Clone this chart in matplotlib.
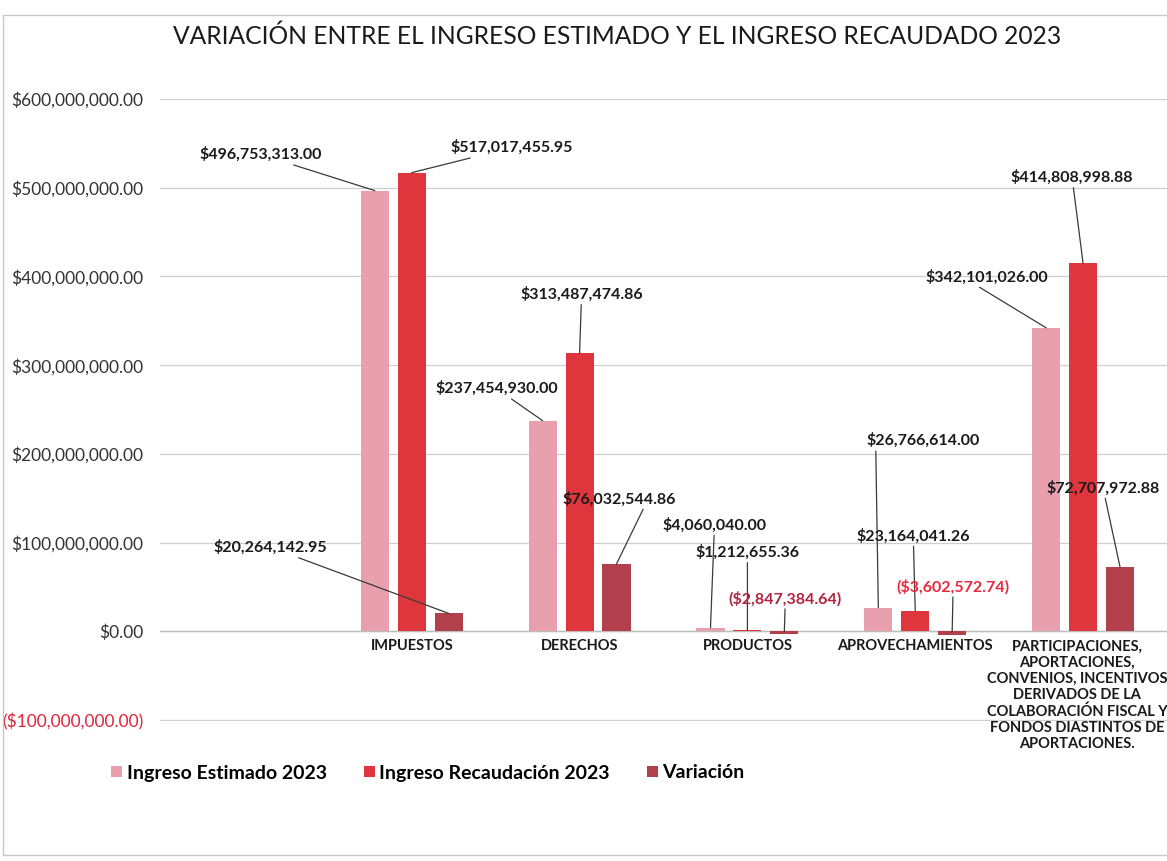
import matplotlib
matplotlib.use("Agg")
import matplotlib.pyplot as plt
from matplotlib.patches import Patch, Rectangle
import numpy as np

plt.rcParams['font.family'] = ['Lato', 'DejaVu Sans']

# data (pesos)
categorias = ["", "IMPUESTOS", "DERECHOS", "PRODUCTOS", "APROVECHAMIENTOS",
              "PARTICIPACIONES,\nAPORTACIONES,\nCONVENIOS, INCENTIVOS\nDERIVADOS DE LA\n"
              "COLABORACIÓN FISCAL Y\nFONDOS DIASTINTOS DE\nAPORTACIONES."]
estimado = [np.nan, 496753313.00, 237454930.00, 4060040.00, 26766614.00, 342101026.00]
recaudado = [np.nan, 517017455.95, 313487474.86, 1212655.36, 23164041.26, 414808998.88]
variacion = [np.nan, 20264142.95, 76032544.86, -2847384.64, -3602572.74, 72707972.88]
series_names = ["Ingreso Estimado 2023", "Ingreso Recaudación 2023", "Variación"]
colors = ["#E8A0AE", "#DE363C", "#B2404C"]
yticks = [-100e6, 0, 100e6, 200e6, 300e6, 400e6, 500e6, 600e6]

# label offsets in pixels (text centre relative to bar top), per series per category
label_off = [
    [None, (-114, 36), (-46, 32), (4, 103), (45, 167), (-59, 51)],
    [None, (100, 25), (2, 59), (0, 78), (-2, 75), (-11, 86)],
    [None, (-178, 66), (3, 65), (1, 33), (1, 45), (-17, 79)],
]
# where the leader line leaves the text box (only where it differs from default)
label_rel = {(0, 4): (0.08, 0.0), (2, 2): (0.72, 0.0), (0, 5): (0.4, 0.0)}
neg_colors = {3: "#B0243C", 4: "#E8283C"}


def money(v):
    s = "${:,.2f}".format(abs(v))
    return "(" + s + ")" if v < 0 else s


fig = plt.figure(figsize=(11.67, 8.61), dpi=100)
ax = fig.add_axes([160 / 1167, 140 / 861, 1 - 160 / 1167, 622 / 861])

x = np.arange(len(categorias))
w = 0.167
step = 0.22
all_series = [estimado, recaudado, variacion]
for k, vals in enumerate(all_series):
    ax.bar(x + (k - 1) * step, vals, width=w, color=colors[k], zorder=3)

ax.set_xlim(-0.5, len(categorias) - 0.5)
ax.set_ylim(-101e6, 600e6)
ax.set_yticks(yticks)
ax.set_yticklabels([money(v) if v != 0 else "$0.00" for v in yticks], fontsize=12.5)
for t, v in zip(ax.get_yticklabels(), yticks):
    if v < 0:
        t.set_color("#E0243A")
    else:
        t.set_color("#333333")
ax.tick_params(axis='y', length=0, pad=12)
ax.set_xticks([])
ax.grid(axis='y', color='#CFCFCF', lw=0.9, zorder=0)
ax.axhline(0, color='#BDBDBD', lw=1.0, zorder=2)
for s in ax.spines.values():
    s.set_visible(False)

# category labels under the zero line
for i, c in enumerate(categorias):
    if c:
        shift = -6 if "\n" in c else 0
        ax.annotate(c, xy=(i, 0), xytext=(shift, -8), textcoords='offset pixels',
                    ha='center', va='top', fontsize=10.5, fontweight='bold',
                    color='#1a1a1a', linespacing=1.2)

# data labels with leader lines
for k, vals in enumerate(all_series):
    for i, v in enumerate(vals):
        if label_off[k][i] is None:
            continue
        dx, dy = label_off[k][i]
        col = neg_colors.get(i, "#1a1a1a") if v < 0 else "#1a1a1a"
        ap = dict(arrowstyle='-', color='#3a3a3a', lw=0.9, shrinkA=0, shrinkB=0)
        if (k, i) in label_rel:
            ap['relpos'] = label_rel[(k, i)]
        ax.annotate(money(v), xy=(i + (k - 1) * step, max(v, 0)),
                    xytext=(dx, dy), textcoords='offset pixels',
                    ha='center', va='center', fontsize=11.5, fontweight='bold',
                    color=col, zorder=5, arrowprops=ap)

fig.text(617 / 1167, 1 - 36 / 861,
         "VARIACIÓN ENTRE EL INGRESO ESTIMADO Y EL INGRESO RECAUDADO 2023",
         fontsize=17.7, color='#1a1a1a', ha='center', va='center')

handles = [Patch(facecolor=colors[k], label=series_names[k]) for k in range(3)]
fig.legend(handles=handles, loc='center', bbox_to_anchor=(428 / 1167, 1 - 773 / 861),
           ncol=3, frameon=False, handlelength=0.55, handleheight=0.55,
           handletextpad=0.25, columnspacing=1.9,
           prop={'size': 14, 'weight': 'bold'})

# chart area frame
fig.patches.append(Rectangle((3 / 1167, 6 / 861), 1.1, 840 / 861, transform=fig.transFigure,
                             fill=False, ec='#C8C8C8', lw=1.0))

fig.savefig("out.png", dpi=100)
